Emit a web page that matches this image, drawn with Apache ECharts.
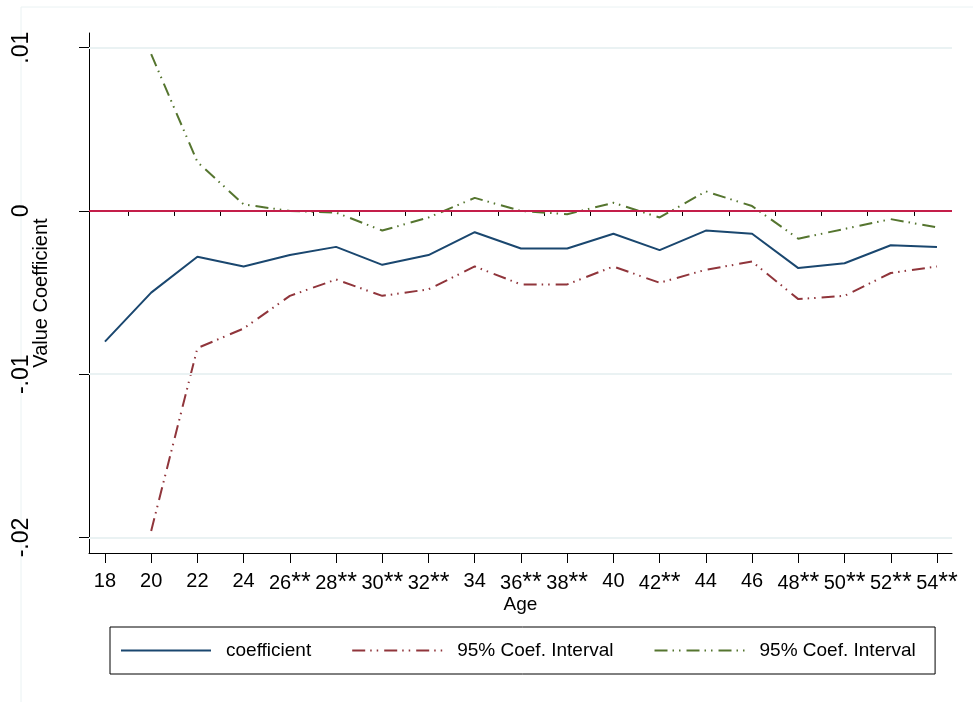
<!DOCTYPE html>
<html>
<head>
<meta charset="utf-8">
<script src="https://cdn.jsdelivr.net/npm/echarts@6/dist/echarts.min.js"></script>
<style>
  html, body { margin: 0; padding: 0; background: #fff; }
  #chart { width: 973px; height: 702px; }
</style>
</head>
<body>
<div id="chart"></div>
<script>
// ages on the x axis and their tick labels (** = significant)
const ages = [18, 20, 22, 24, 26, 28, 30, 32, 34, 36, 38, 40, 42, 44, 46, 48, 50, 52, 54];
const ageLabels = ['18', '20', '22', '24', '26**', '28**', '30**', '32**', '34', '36**', '38**', '40', '42**', '44', '46', '48**', '50**', '52**', '54**'];
const minorAges = [19, 21, 23, 25, 27, 29, 31, 33, 35, 37, 39, 41, 43, 45, 47, 49, 51, 53];

const yTicks = [-0.02, -0.01, 0, 0.01];
const yTickLabels = ['-.02', '-.01', '0', '.01'];

const coefficient = [-0.0080, -0.0050, -0.0028, -0.0034, -0.0027, -0.0022, -0.0033, -0.0027, -0.0013, -0.0023, -0.0023, -0.0014, -0.0024, -0.0012, -0.0014, -0.0035, -0.0032, -0.0021, -0.0022];
// confidence bounds, no value at 18
const ciLower = [null, -0.0196, -0.0084, -0.0072, -0.0052, -0.0042, -0.0052, -0.0048, -0.0034, -0.0045, -0.0045, -0.0034, -0.0044, -0.0036, -0.0031, -0.0054, -0.0052, -0.0038, -0.0034];
const ciUpper = [null, 0.0096, 0.0030, 0.0004, 0.0000, -0.0001, -0.0012, -0.0004, 0.0008, 0.0000, -0.0002, 0.0005, -0.0004, 0.0012, 0.0003, -0.0017, -0.0011, -0.0005, -0.0010];

const font = '"Liberation Sans", Arial, sans-serif';
const gridColor = '#eaf2f3';
const dashDot = [13, 5, 1.5, 5, 1.5, 6];

function pairs(vals) {
  return ages.map((a, i) => [a, vals[i]]);
}

// stata draws the asterisks a bit bigger than the digits
function ageLabel(v) {
  const s = ageLabels[ages.indexOf(v)];
  if (s.indexOf('**') < 0) return s;
  return s.replace('**', '') + '{s|**}';
}

const chart = echarts.init(document.getElementById('chart'));
chart.setOption({
  backgroundColor: '#fff',
  animation: false,
  textStyle: { fontFamily: font },
  graphic: [{
    type: 'rect',
    shape: { x: 21, y: 7, width: 1200, height: 1200 },
    style: { fill: 'none', stroke: gridColor, lineWidth: 1 },
    silent: true
  }],
  grid: { left: 89, right: 21, top: 33, bottom: 149, outerBoundsMode: 'none', containLabel: false },
  legend: {
    left: 110,
    top: 627,
    orient: 'horizontal',
    itemWidth: 90,
    itemHeight: 14,
    itemGap: 40,
    padding: [14, 14, 14, 10],
    borderColor: '#000',
    borderWidth: 1,
    itemStyle: { opacity: 0 },
    textStyle: { fontSize: 19, color: '#000', fontFamily: font, padding: [0, 0, 0, 10] },
    data: ['coefficient', '95% Coef. Interval', '95% Coef. Interval ']
  },
  xAxis: [{
    type: 'value',
    min: 17.31,
    max: 54.65,
    name: 'Age',
    nameLocation: 'middle',
    nameGap: 42,
    nameMoveOverlap: false,
    nameTextStyle: { fontSize: 19, color: '#000' },
    axisLine: { show: true, onZero: false, lineStyle: { color: '#000', width: 1 } },
    axisTick: { show: true, length: 10, customValues: ages, lineStyle: { color: '#000' } },
    axisLabel: {
      customValues: ages,
      margin: 18,
      fontSize: 20,
      color: '#000',
      hideOverlap: false,
      formatter: ageLabel,
      rich: { s: { fontSize: 25, color: '#000', verticalAlign: 'top', padding: [0, 0, 0, 0] } }
    },
    splitLine: { show: false }
  }, {
    type: 'value',
    min: 17.31,
    max: 54.65,
    position: 'bottom',
    axisLine: { show: false },
    axisTick: { show: true, length: 5, customValues: minorAges, lineStyle: { color: '#000' } },
    axisLabel: { show: false },
    splitLine: { show: false }
  }],
  yAxis: {
    type: 'value',
    min: -0.02095,
    max: 0.0109,
    name: 'Value Coefficient',
    nameLocation: 'middle',
    nameRotate: 90,
    nameGap: 38,
    nameMoveOverlap: false,
    nameTextStyle: { fontSize: 20, color: '#000' },
    axisLine: { show: true, onZero: false, lineStyle: { color: '#000', width: 1 } },
    axisTick: { show: true, length: 10, customValues: yTicks, lineStyle: { color: '#000' } },
    axisLabel: {
      customValues: yTicks,
      rotate: 90,
      margin: 56,
      fontSize: 23,
      color: '#000',
      formatter: v => yTickLabels[yTicks.indexOf(v)]
    },
    splitLine: { show: false }
  },
  series: [{
    name: 'grid',
    type: 'line',
    data: [],
    silent: true,
    markLine: {
      silent: true,
      symbol: 'none',
      label: { show: false },
      lineStyle: { color: gridColor, width: 2, type: 'solid' },
      data: [{ yAxis: 0.01 }, { yAxis: -0.01 }, { yAxis: -0.02 }]
    }
  }, {
    name: 'zero',
    type: 'line',
    data: [],
    silent: true,
    z: 3,
    markLine: {
      silent: true,
      symbol: 'none',
      label: { show: false },
      lineStyle: { color: '#c41e4a', width: 2, type: 'solid' },
      data: [{ yAxis: 0 }]
    }
  }, {
    name: 'coefficient',
    type: 'line',
    data: pairs(coefficient),
    symbol: 'none',
    z: 5,
    lineStyle: { color: '#1a476f', width: 2 },
    itemStyle: { color: '#1a476f' }
  }, {
    name: '95% Coef. Interval',
    type: 'line',
    data: pairs(ciLower),
    symbol: 'none',
    z: 4,
    lineStyle: { color: '#90353b', width: 2, type: dashDot },
    itemStyle: { color: '#90353b' }
  }, {
    name: '95% Coef. Interval ',
    type: 'line',
    data: pairs(ciUpper),
    symbol: 'none',
    z: 4,
    lineStyle: { color: '#55752f', width: 2, type: dashDot },
    itemStyle: { color: '#55752f' }
  }]
});
</script>
</body>
</html>
